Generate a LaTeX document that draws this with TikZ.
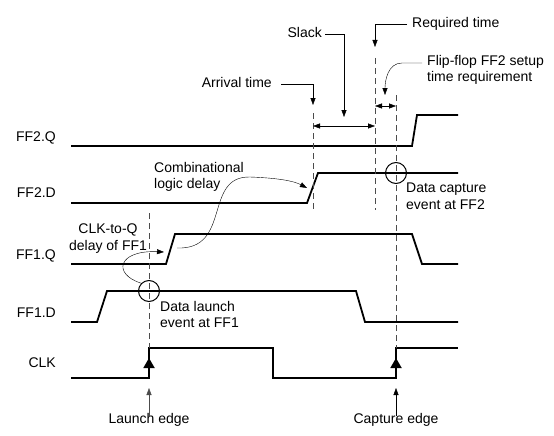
\documentclass[tikz,border=0pt]{standalone}
\usepackage{fontspec}
\setmainfont{Liberation Sans}
\usetikzlibrary{arrows.meta}

\tikzset{
	wave/.style={line width=1.8pt,line join=miter},
	guide/.style={thin,gray!60!black,dash pattern=on 6pt off 4pt},
	pointer/.style={thin,-{Triangle[length=7pt,width=5pt]}},
	span/.style={thin,{Triangle[length=7pt,width=5pt]}-{Triangle[length=7pt,width=5pt]}},
	edgetip/.style={-{Triangle[length=10pt,width=11pt]},line width=1.8pt},
	lbl/.style={font=\fontsize{14}{16.5}\selectfont,inner sep=0pt,align=left},
	sig/.style={lbl,anchor=base east},
	event/.style={circle,draw,line width=1pt,minimum size=21pt,inner sep=0pt}
}

\begin{document}
\begin{tikzpicture}[x=1pt,y=-1pt]
	\useasboundingbox (0,0) rectangle (554,436);
	% signal names
	\node [sig] (nq2) at (56,141) {FF2.Q};
	\node [sig] (nd2) at (56,197) {FF2.D};
	\node [sig] (nq1) at (56,259) {FF1.Q};
	\node [sig] (nd1) at (56,317) {FF1.D};
	\node [sig] (nclk) at (56,367) {CLK};
	% waveforms
	\draw [wave] (71,146) -- (412,146) -- (417,115) -- (458,115);
	\draw [wave] (71,203) -- (307,203) -- (318,173) -- (458,173);
	\draw [wave] (71,264) -- (166,264) -- (175,234) -- (412,234) -- (422,264) -- (458,264);
	\draw [wave] (71,322) -- (97,322) -- (107,291) -- (356,291) -- (365,322) -- (458,322);
	\draw [wave] (71,378) -- (149,378) -- (149,348) -- (273,348) -- (273,378) -- (396,378) -- (396,348) -- (458,348);
	% dashed guides
	\draw [guide] (149,213) -- (149,348);
	\draw [guide] (396,95) -- (396,348);
	\draw [guide] (375,58) -- (375,210);
	\draw [guide] (313,113) -- (313,212);
	% clock edges
	\coordinate (lbase) at (149,369);
	\coordinate (ltop) at (149,358);
	\coordinate (cbase) at (396,369);
	\coordinate (ctop) at (396,358);
	\draw [edgetip] (lbase) -- (ltop);
	\draw [edgetip] (cbase) -- (ctop);
	\node [lbl,anchor=base] (launch) at (149,423) {Launch edge};
	\node [lbl,anchor=base] (capture) at (396,423) {Capture edge};
	\coordinate (launchtip) at (149,388);
	\coordinate (capturetip) at (396,388);
	\draw [pointer,gray!60!black] ([yshift=-3pt]launch.north) -- (launchtip);
	\draw [pointer] ([yshift=-3pt]capture.north) -- (capturetip);
	% events
	\node [event] (launchev) at (149,291) {};
	\node [event] (captureev) at (396,173) {};
	\node [lbl,anchor=north west] (launchtxt) at (160,301) {Data launch\\event at FF1};
	\node [lbl,anchor=north west] (capturetxt) at (406,183) {Data capture\\event at FF2};
	% delays
	\node [lbl,anchor=north west] (combtxt) at (154,162) {Combinational\\logic delay};
	\node [lbl,anchor=north,align=center] (clkq) at (108,224) {CLK-to-Q\\delay of FF1};
	\coordinate (q1rise) at (164,252);
	\coordinate (d2rise) at (307,188);
	\coordinate (q1top) at (177,248);
	\draw [pointer] (launchev.north west) .. controls (112,274) and (118,250) .. (q1rise);
	\draw [pointer] (q1top) .. controls (232,250) and (203,176) .. (250,177) .. controls (278,178) and (294,181) .. (d2rise);
	% timing labels
	\node [lbl,anchor=base west] (req) at (412,28) {Required time};
	\node [lbl,anchor=base east] (slack) at (322,38) {Slack};
	\node [lbl,anchor=base east] (arr) at (272,88) {Arrival time};
	\node [lbl,anchor=north west] (setup) at (427,55) {Flip-flop FF2 setup\\time requirement};
	\coordinate (reqtip) at (375,47);
	\coordinate (slacktip) at (344,117);
	\coordinate (arrtip) at (313,105);
	\coordinate (setuptip) at (385,95);
	\coordinate (setupbend) at (402,63);
	\draw [pointer] ([xshift=-5pt]req.west) -| (reqtip);
	\draw [pointer] ([xshift=3pt,yshift=-1pt]slack.east) -| (slacktip);
	\draw [pointer] ([xshift=9pt,yshift=-1pt]arr.east) -| (arrtip);
	\draw [pointer] ([xshift=-5pt]setup.west |- setupbend) -- (setupbend) to[out=180,in=90] (setuptip);
	% slack and setup spans
	\coordinate (slackL) at (313,126);
	\coordinate (slackR) at (375,126);
	\coordinate (setupL) at (375,106);
	\coordinate (setupR) at (396,106);
	\draw [span] (slackL) -- (slackR);
	\draw [span] (setupL) -- (setupR);
\end{tikzpicture}
\end{document}
